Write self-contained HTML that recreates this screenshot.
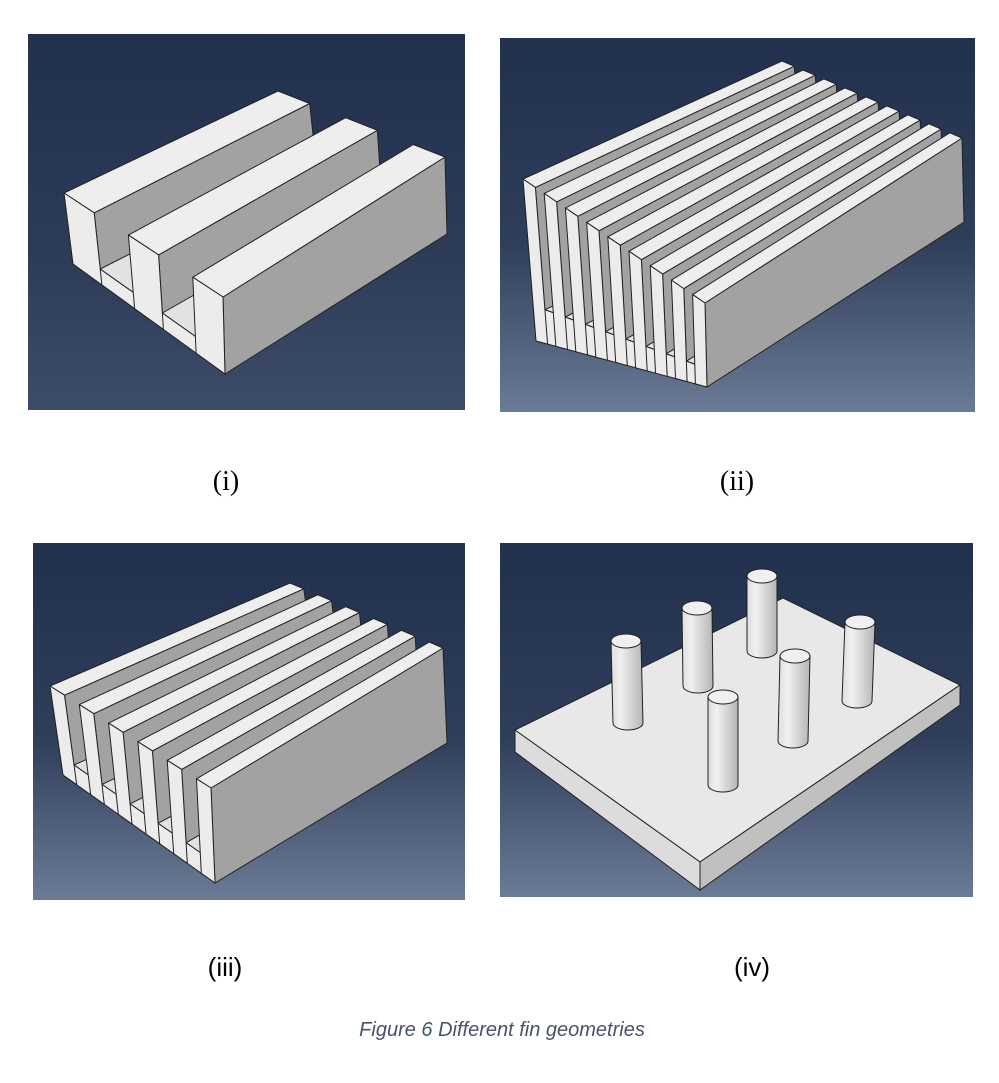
<!DOCTYPE html>
<html><head><meta charset="utf-8">
<style>
html,body{margin:0;padding:0;background:#fff;width:999px;height:1083px;overflow:hidden}
svg{display:block}
</style></head>
<body>
<svg id="fig" width="999" height="1083" viewBox="0 0 999 1083" xmlns="http://www.w3.org/2000/svg">
<defs>
<linearGradient id="bgA" x1="0" y1="0" x2="0" y2="1">
<stop offset="0" stop-color="#21304d"/><stop offset="0.6" stop-color="#2d3c59"/><stop offset="1" stop-color="#3d4c68"/></linearGradient>
<linearGradient id="bgB" x1="0" y1="0" x2="0" y2="1">
<stop offset="0" stop-color="#21304d"/><stop offset="0.55" stop-color="#2f3e5b"/><stop offset="1" stop-color="#6b7b96"/></linearGradient>
<linearGradient id="cyl" x1="0" y1="0" x2="1" y2="0">
<stop offset="0" stop-color="#dedede"/><stop offset="0.3" stop-color="#f0f0f0"/><stop offset="1" stop-color="#b5b5b5"/></linearGradient>
</defs>
<rect x="28" y="34" width="437" height="376" fill="url(#bgA)"/>
<rect x="500" y="38" width="475" height="374" fill="url(#bgB)"/>
<rect x="33" y="543" width="432" height="357" fill="url(#bgB)"/>
<rect x="500" y="543" width="473" height="354" fill="url(#bgB)"/>
<g id="sinks"></g>
<g id="pins">
<polygon points="515,730 783,598 960,685 700,862" fill="#e8e8e8" stroke="#222" stroke-width="1"/>
<polygon points="515,730 700,862 700,890 515,752" fill="#dcdcdc" stroke="#222" stroke-width="1"/>
<polygon points="700,862 960,685 960,705 700,890" fill="#c0c0c0" stroke="#222" stroke-width="1"/>
</g>
<text x="226" y="490" font-family="Liberation Serif, serif" font-size="28" text-anchor="middle">(i)</text>
<text x="737" y="490" font-family="Liberation Serif, serif" font-size="28" text-anchor="middle">(ii)</text>
<text x="225" y="976" font-family="Liberation Sans, sans-serif" font-size="26" text-anchor="middle">(iii)</text>
<text x="752" y="976" font-family="Liberation Sans, sans-serif" font-size="26" text-anchor="middle">(iv)</text>
<text x="502" y="1036" font-family="Liberation Sans, sans-serif" font-size="20" font-style="italic" fill="#44546a" text-anchor="middle">Figure 6 Different fin geometries</text>
</svg>
<script>
const NS='http://www.w3.org/2000/svg';
const sinks=document.getElementById('sinks');
function poly(parent,pts,fill,name){
  const p=document.createElementNS(NS,'polygon');
  p.setAttribute('points',pts.map(q=>q[0].toFixed(1)+','+q[1].toFixed(1)).join(' '));
  p.setAttribute('fill',fill);p.setAttribute('stroke','#222');p.setAttribute('stroke-width','1');p.setAttribute('stroke-linejoin','round');
  
  
  parent.appendChild(p);return p;
}
const L=(a,b,t)=>[a[0]+(b[0]-a[0])*t,a[1]+(b[1]-a[1])*t];
const add=(a,d)=>[a[0]+d[0],a[1]+d[1]];
const sc=(d,s)=>[d[0]*s,d[1]*s];
function sink(A,B,C,D,KL,KR,n,fw,name){
  const g=document.createElementNS(NS,'g');
  
  
  sinks.appendChild(g);
  const HL=[D[0]-A[0],D[1]-A[1]], HR=[C[0]-B[0],C[1]-B[1]];
  const H=t=>L(HL,HR,t), K=t=>L(KL,KR,t);
  const base=0.78;
  const a0=add(A,sc(HL,base)), b0=add(B,sc(HR,base));
  poly(g,[a0,add(a0,KL),add(b0,KR),b0],'#e2e2e2','base-floor');
  poly(g,[a0,b0,C,D],'#ececec','base-end-face');
  const gap=(1-n*fw)/(n-1);
  for(let i=0;i<n;i++){
    const t0=i*(fw+gap), t1=t0+fw;
    const a=L(A,B,t0), b=L(A,B,t1);
    const ha=H(t0), hb=H(t1), ka=K(t0), kb=K(t1);
    const last=(i===n-1);
    const hs=last?1:base;
    poly(g,[b,add(b,kb),add(add(b,kb),sc(hb,hs)),add(b,sc(hb,hs))],'#a2a2a2','fin-side-face');
    poly(g,[a,add(a,ka),add(b,kb),b],'#eeeeee','fin-top-face');
    poly(g,[a,b,add(b,hb),add(a,ha)],'#ececec','fin-end-face');
  }
}
sink([64,193],[223,297],[225,374],[73,264],[214,-102],[222,-140],3,0.19,'rectangular-fins-3');
sink([523,179],[705,303],[707,387],[536,341],[259,-118],[257,-165],9,0.068,'rectangular-fins-9');
sink([50,686],[211,788],[215,883],[63,775],[240,-103],[232,-140],6,0.09,'rectangular-fins-6');
const pins=document.getElementById('pins');
const pinTops=[[626,641],[697,608],[762,576],[860,622],[795,656],[723,697]];
const pinBottoms=[[628,723],[698,686],[762,651],[857,701],[793,741],[723,785]];
pinTops.forEach((p,i)=>{
  const rx=15,ry=7,q=pinBottoms[i];
  const g=document.createElementNS(NS,'g');
  
  
  pins.appendChild(g);
  const r=document.createElementNS(NS,'path');
  r.setAttribute('d',`M${p[0]-rx},${p[1]} L${q[0]-rx},${q[1]} A${rx},${ry} 0 0 0 ${q[0]+rx},${q[1]} L${p[0]+rx},${p[1]} Z`);
  r.setAttribute('fill','url(#cyl)');r.setAttribute('stroke','#222');
  g.appendChild(r);
  const e=document.createElementNS(NS,'ellipse');
  e.setAttribute('cx',p[0]);e.setAttribute('cy',p[1]);e.setAttribute('rx',rx);e.setAttribute('ry',ry);
  e.setAttribute('fill','#f0f0f0');e.setAttribute('stroke','#222');
  g.appendChild(e);
});
</script>
</body></html>
